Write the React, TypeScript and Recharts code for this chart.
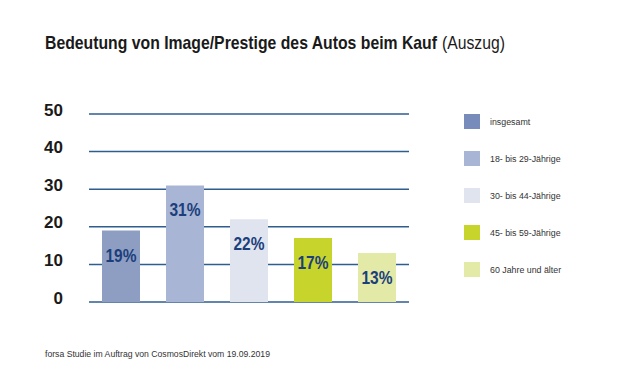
import React from 'react';
import { BarChart, Bar, XAxis, YAxis, CartesianGrid, Cell, LabelList } from 'recharts';

const categories = ['insgesamt', '18- bis 29-Jährige', '30- bis 44-Jährige', '45- bis 59-Jährige', '60 Jahre und älter'];
const values = [19, 31, 22, 17, 13];
const yTicks = [0, 10, 20, 30, 40, 50];
const barColors = ['#8e9ec3', '#a9b5d4', '#e0e4ef', '#c7d42c', '#e3e9a7'];
const legendColors = ['#778cba', '#a9b5d4', '#e0e4ef', '#c7d42c', '#e3e9a7'];
const title = 'Bedeutung von Image/Prestige des Autos beim Kauf';
const titleSuffix = '(Auszug)';
const source = 'forsa Studie im Auftrag von CosmosDirekt vom 19.09.2019';

const data = categories.map((c, i) => ({ name: c, value: values[i] }));

const FONT = '"Liberation Sans", Arial, sans-serif';

const YTick = (props: any) => {
  const { x, y, payload } = props;
  return (
    <text x={x} y={y} dy={-4} textAnchor="end" dominantBaseline="central" fontFamily={FONT} fontWeight="bold" fontSize={17} fill="#1a1a1a">
      {payload.value}
    </text>
  );
};

const BarLabel = (props: any) => {
  const { x, y, width, value } = props;
  return (
    <text x={x + width / 2} y={y + 25} textAnchor="middle" dominantBaseline="central" fontFamily={FONT} fontWeight="bold" fontSize={18} fill="#1c3f7c" textLength={31} lengthAdjust="spacingAndGlyphs">
      {value}%
    </text>
  );
};

export default function App() {
  return (
    <div style={{ position: 'absolute', left: 0, top: 0, width: 620, height: 385, background: '#fff', overflow: 'hidden' }}>
      <BarChart width={620} height={385} data={data} margin={{ top: 114, right: 211, bottom: 83, left: 29 }} barSize={38}>
        <CartesianGrid vertical={false} stroke="#2f5d8f" strokeWidth={1.5} />
        <XAxis dataKey="name" tick={false} tickLine={false} height={0} axisLine={{ stroke: '#173a6e', strokeWidth: 2.5 }} />
        <YAxis domain={[0, 50]} ticks={yTicks} width={60} axisLine={false} tickLine={false} tickSize={0} tickMargin={26} tick={<YTick />} interval={0} />
        <Bar dataKey="value" isAnimationActive={false}>
          {data.map((d, i) => (
            <Cell key={d.name} fill={barColors[i]} />
          ))}
          <LabelList dataKey="value" content={<BarLabel />} />
        </Bar>
      </BarChart>
      <svg width={620} height={385} style={{ position: 'absolute', left: 0, top: 0, pointerEvents: 'none' }}>
        <text x={45} y={48.5} fontFamily={FONT} fontWeight="bold" fontSize={17.7} fill="#1a1a1a" textLength={392} lengthAdjust="spacingAndGlyphs">{title}</text>
        <text x={442} y={48.5} fontFamily={FONT} fontSize={17.7} fill="#1a1a1a" textLength={63} lengthAdjust="spacingAndGlyphs">{titleSuffix}</text>
        {categories.map((c, i) => (
          <g key={c} transform={`translate(464, ${114 + i * 37})`}>
            <rect x={0} y={0} width={16} height={15} fill={legendColors[i]} />
            <text x={26} y={7.5} dominantBaseline="central" fontFamily={FONT} fontSize={9.5} fill="#333" transform="scale(0.93,1)" style={{ transformOrigin: '26px 0px' }}>{c}</text>
          </g>
        ))}
        <text x={45} y={357} fontFamily={FONT} fontSize={9} fill="#333" textLength={225} lengthAdjust="spacingAndGlyphs">{source}</text>
      </svg>
    </div>
  );
}
